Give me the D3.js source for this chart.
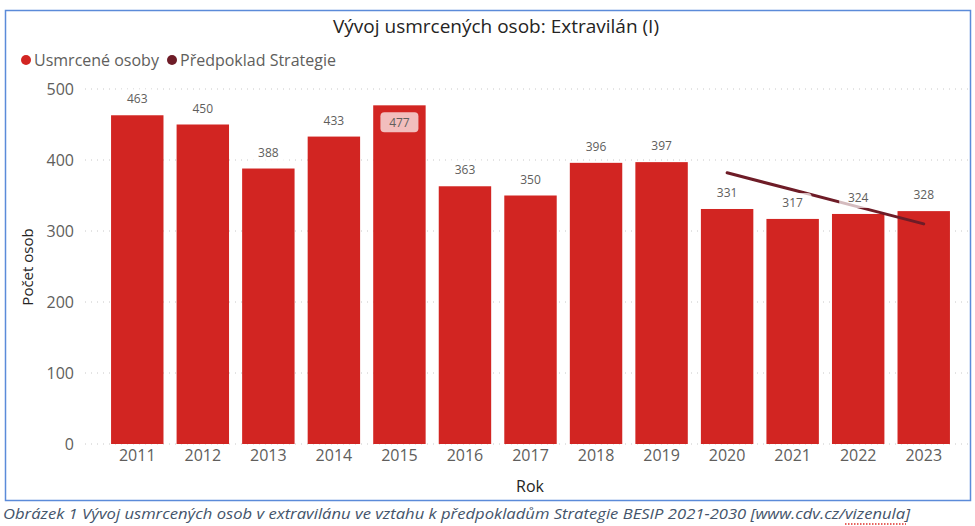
<!DOCTYPE html>
<meta charset="utf-8">
<script src="https://d3js.org/d3.v7.min.js"></script>
<style>
  body { margin: 0; background: #fff; }
  text { font-family: "Open Sans", "Noto Sans", sans-serif; }
</style>
<div id="chart"></div>
<script>
// data
var years = ["2011","2012","2013","2014","2015","2016","2017","2018","2019","2020","2021","2022","2023"];
var killed = [463, 450, 388, 433, 477, 363, 350, 396, 397, 331, 317, 324, 328];
var planYears = ["2020","2021","2022","2023"];
var planned = [382, 358, 334, 310];
var yTicks = [0, 100, 200, 300, 400, 500];

var W = 975, H = 526;
var barColor = "#d22522", lineColor = "#6e1c27", textGray = "#605e5c";

var svg = d3.select("#chart").append("svg")
    .attr("width", W).attr("height", H);

// frame of the visual
svg.append("rect")
    .attr("x", 5.5).attr("y", 10.5)
    .attr("width", 965).attr("height", 490)
    .attr("fill", "none").attr("stroke", "#5b8bd9").attr("stroke-width", 1.5);

var x = d3.scaleBand()
    .domain(years)
    .range([104.5, 956.5])
    .paddingInner(0.2)
    .paddingOuter(0.1);

var y = d3.scaleLinear()
    .domain([0, 500])
    .range([444, 89]);

// gridlines
svg.append("g")
    .selectAll("line")
    .data(yTicks)
    .join("line")
      .attr("x1", 85).attr("x2", 968)
      .attr("y1", d => y(d)).attr("y2", d => y(d))
      .attr("stroke", "#c8c8c8")
      .attr("stroke-dasharray", "1,5");

// y axis labels
var yAxis = svg.append("g")
    .attr("transform", "translate(74,0)")
    .call(d3.axisLeft(y).tickValues(yTicks).tickSize(0).tickPadding(0));
yAxis.select(".domain").remove();
yAxis.selectAll("text")
    .attr("fill", textGray)
    .style("font-size", "16px");

// x axis labels
var xAxis = svg.append("g")
    .attr("transform", "translate(0,450)")
    .call(d3.axisBottom(x).tickSize(0).tickPadding(0));
xAxis.select(".domain").remove();
xAxis.selectAll("text")
    .attr("fill", textGray)
    .attr("dy", "0.71em")
    .style("font-size", "16px");

// bars
svg.append("g")
    .selectAll("rect")
    .data(years)
    .join("rect")
      .attr("x", d => x(d))
      .attr("width", x.bandwidth())
      .attr("y", (d, i) => y(killed[i]))
      .attr("height", (d, i) => y(0) - y(killed[i]))
      .attr("fill", barColor);

// strategy line
var line = d3.line()
    .x(d => x(d[0]) + x.bandwidth() / 2)
    .y(d => y(d[1]));
svg.append("path")
    .datum(planYears.map((d, i) => [d, planned[i]]))
    .attr("d", line)
    .attr("fill", "none")
    .attr("stroke", lineColor)
    .attr("stroke-width", 3)
    .attr("stroke-linecap", "round");

// data labels with a light backing box
var labels = svg.append("g")
    .selectAll("g")
    .data(years)
    .join("g")
      .attr("transform", function(d, i) {
        var cy = y(killed[i]) - 16;
        if (cy < y(500) + 6) cy = y(killed[i]) + 17; // no room above: put it inside
        return "translate(" + (x(d) + x.bandwidth() / 2) + "," + cy + ")";
      });

labels.append("rect")
    .attr("x", -19).attr("y", -10)
    .attr("width", 38).attr("height", 20)
    .attr("rx", 4)
    .attr("fill", "#fff")
    .attr("fill-opacity", 0.7);

labels.append("text")
    .attr("text-anchor", "middle")
    .attr("dy", "0.35em")
    .attr("fill", textGray)
    .style("font-size", "12px")
    .text((d, i) => killed[i]);

// axis titles
svg.append("text")
    .attr("transform", "translate(28,267) rotate(-90)")
    .attr("text-anchor", "middle")
    .attr("dy", "0.35em")
    .attr("fill", "#252423")
    .style("font-size", "15px")
    .text("Počet osob");

svg.append("text")
    .attr("x", 530).attr("y", 486)
    .attr("text-anchor", "middle")
    .attr("dy", "0.35em")
    .attr("fill", "#252423")
    .style("font-size", "16px")
    .text("Rok");

// title
svg.append("text")
    .attr("x", 496).attr("y", 26)
    .attr("text-anchor", "middle")
    .attr("dy", "0.35em")
    .attr("fill", "#252423")
    .style("font-size", "19px")
    .text("Vývoj usmrcených osob: Extravilán (I)");

// legend
var legendItems = [
  {name: "Usmrcené osoby", color: barColor, cx: 26},
  {name: "Předpoklad Strategie", color: lineColor, cx: 172}
];
var legend = svg.append("g")
    .selectAll("g")
    .data(legendItems)
    .join("g")
      .attr("transform", d => "translate(" + d.cx + ",60)");
legend.append("circle")
    .attr("r", 5)
    .attr("fill", d => d.color);
legend.append("text")
    .attr("x", 8)
    .attr("dy", "0.35em")
    .attr("fill", textGray)
    .style("font-size", "16px")
    .text(d => d.name);

// caption under the visual
svg.append("text")
    .attr("x", 3).attr("y", 519)
    .attr("fill", "#44546a")
    .style("font-family", "'Liberation Sans Narrow', 'Open Sans', sans-serif")
    .style("font-size", "15px")
    .style("font-style", "italic")
    .attr("textLength", 907)
    .attr("lengthAdjust", "spacingAndGlyphs")
    .text("Obrázek 1 Vývoj usmrcených osob v extravilánu ve vztahu k předpokladům Strategie BESIP 2021-2030 [www.cdv.cz/vizenula]");

// spell-check squiggle under "vizenula"
svg.append("line")
    .attr("x1", 845).attr("x2", 906)
    .attr("y1", 524).attr("y2", 524)
    .attr("stroke", "#e0302a")
    .attr("stroke-width", 1.5)
    .attr("stroke-dasharray", "1.5,1.5");
</script>
